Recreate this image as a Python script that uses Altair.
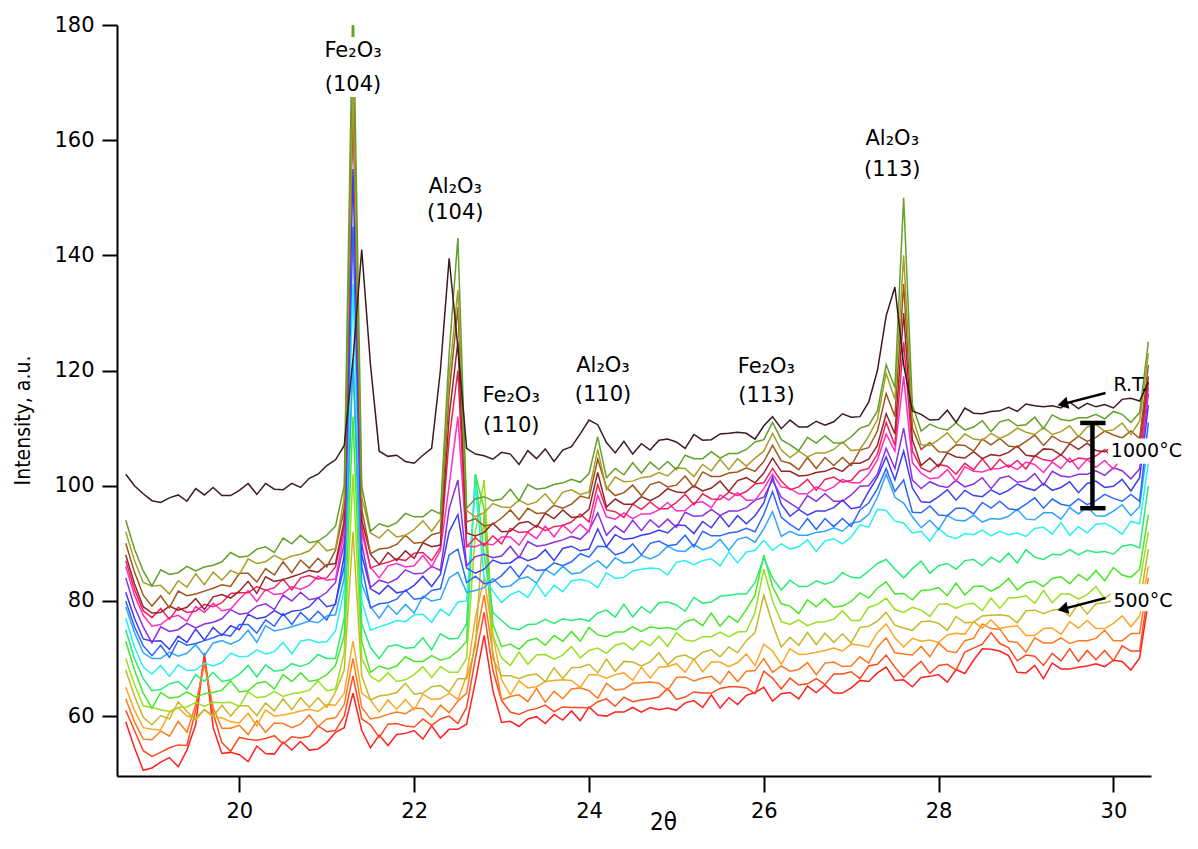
import altair as alt
import pandas as pd

# ---------------- data ----------------
two_theta = [18.7, 18.8, 18.9, 19.0, 19.1, 19.2, 19.3, 19.4, 19.5, 19.6,
             19.7, 19.8, 19.9, 20.0, 20.1, 20.2, 20.3, 20.4, 20.5, 20.6,
             20.7, 20.8, 20.9, 21.0, 21.1, 21.2, 21.3, 21.4, 21.5, 21.6,
             21.7, 21.8, 21.9, 22.0, 22.1, 22.2, 22.3, 22.4, 22.5, 22.6,
             22.7, 22.8, 22.9, 23.0, 23.1, 23.2, 23.3, 23.4, 23.5, 23.6,
             23.7, 23.8, 23.9, 24.0, 24.1, 24.2, 24.3, 24.4, 24.5, 24.6,
             24.7, 24.8, 24.9, 25.0, 25.1, 25.2, 25.3, 25.4, 25.5, 25.6,
             25.7, 25.8, 25.9, 26.0, 26.1, 26.2, 26.3, 26.4, 26.5, 26.6,
             26.7, 26.8, 26.9, 27.0, 27.1, 27.2, 27.3, 27.4, 27.5, 27.6,
             27.7, 27.8, 27.9, 28.0, 28.1, 28.2, 28.3, 28.4, 28.5, 28.6,
             28.7, 28.8, 28.9, 29.0, 29.1, 29.2, 29.3, 29.4, 29.5, 29.6,
             29.7, 29.8, 29.9, 30.0, 30.1, 30.2, 30.3, 30.4]

s01_red = [59.0, 54.5, 50.6, 51.0, 52.0, 52.8, 51.2, 54.1, 58.5, 71.0,
           58.0, 53.5, 53.7, 53.3, 52.1, 54.8, 53.5, 53.4, 55.5, 54.1,
           55.6, 54.1, 54.3, 55.4, 57.2, 58.0, 64.0, 57.5, 54.5, 56.7,
           54.9, 56.8, 57.0, 57.5, 56.0, 58.3, 56.2, 57.7, 57.7, 58.6,
           66.0, 74.0, 64.5, 58.9, 59.1, 58.2, 59.5, 59.9, 58.7, 60.3,
           59.3, 60.9, 59.2, 61.6, 60.2, 60.0, 60.7, 60.7, 61.5, 60.7,
           61.5, 61.1, 61.4, 61.0, 62.3, 62.7, 61.5, 63.7, 61.4, 63.2,
           62.0, 63.6, 64.1, 65.0, 62.6, 63.9, 64.1, 63.0, 65.2, 64.1,
           65.4, 64.0, 64.0, 64.9, 66.2, 66.0, 67.5, 68.5, 66.2, 66.3,
           65.1, 66.7, 66.9, 67.2, 65.9, 68.1, 67.4, 69.7, 71.7, 71.6,
           71.3, 70.5, 67.6, 67.5, 68.8, 66.5, 69.2, 68.2, 68.2, 68.5,
           68.7, 69.1, 68.6, 69.7, 69.5, 68.0, 70.1, 80.0]

s02_redorange = [61.0, 57.5, 54.0, 53.0, 53.7, 54.5, 55.0, 54.9, 61.0, 70.0,
                 60.5, 55.4, 53.9, 56.3, 56.0, 55.8, 56.1, 56.6, 55.2, 56.4,
                 56.2, 56.5, 58.3, 57.3, 57.5, 60.0, 67.0, 59.5, 58.5, 56.3,
                 58.6, 58.7, 58.3, 58.1, 59.5, 58.4, 59.5, 60.0, 58.7, 61.5,
                 70.0, 78.0, 68.0, 62.7, 60.7, 60.3, 61.0, 61.3, 61.9, 60.8,
                 61.6, 61.5, 61.5, 61.4, 62.5, 63.0, 61.7, 63.3, 62.5, 62.8,
                 63.0, 63.3, 64.8, 62.9, 63.3, 64.2, 64.0, 64.0, 64.8, 65.1,
                 65.1, 64.9, 63.9, 67.8, 66.6, 64.7, 66.6, 65.4, 65.6, 66.5,
                 65.5, 67.3, 67.3, 67.7, 66.5, 68.7, 69.0, 70.6, 68.5, 66.7,
                 68.2, 69.5, 67.4, 68.8, 69.0, 68.0, 71.1, 71.8, 72.5, 74.5,
                 72.6, 71.9, 69.6, 70.6, 70.4, 68.8, 70.9, 69.6, 71.7, 69.5,
                 71.4, 69.8, 71.4, 69.6, 72.2, 71.3, 71.3, 82.0]

s03_orangered = [63.0, 59.0, 56.0, 55.9, 57.4, 56.5, 59.1, 57.2, 62.0, 69.0,
                 61.5, 57.9, 57.9, 58.4, 56.8, 59.2, 57.2, 58.8, 58.7, 58.0,
                 58.6, 60.2, 58.2, 59.5, 59.7, 62.0, 70.0, 61.5, 59.5, 59.8,
                 60.3, 60.7, 60.4, 61.4, 61.3, 59.8, 61.9, 60.6, 62.6, 64.0,
                 73.0, 81.0, 71.0, 62.8, 63.4, 63.7, 62.5, 64.8, 62.4, 64.3,
                 63.0, 64.7, 64.9, 64.4, 63.1, 65.7, 64.5, 64.7, 65.7, 65.8,
                 65.9, 65.7, 64.5, 66.7, 66.8, 66.1, 66.6, 66.9, 65.6, 67.8,
                 66.0, 67.8, 67.9, 70.0, 67.6, 68.7, 67.8, 68.1, 69.3, 67.2,
                 69.2, 69.4, 68.6, 68.7, 70.3, 69.2, 72.0, 73.6, 71.0, 70.8,
                 70.6, 72.1, 70.3, 72.7, 71.3, 71.0, 73.1, 73.5, 76.0, 75.2,
                 75.1, 73.0, 72.8, 71.1, 73.6, 72.7, 72.7, 73.6, 72.6, 73.1,
                 73.1, 73.5, 74.9, 73.1, 73.1, 74.3, 74.4, 84.0]

s04_orange = [65.0, 61.0, 58.0, 57.7, 57.6, 60.6, 61.5, 60.0, 59.7, 61.1,
              59.8, 59.7, 59.0, 58.8, 60.5, 58.3, 61.1, 60.0, 60.2, 60.5,
              60.9, 61.2, 60.8, 62.0, 61.9, 64.0, 73.0, 64.0, 62.8, 60.7,
              62.8, 61.2, 62.9, 61.1, 63.8, 62.9, 63.0, 64.0, 62.9, 67.0,
              77.0, 84.0, 74.0, 66.3, 63.7, 66.1, 64.9, 65.1, 66.0, 66.2,
              66.3, 66.2, 65.0, 67.2, 67.2, 66.6, 67.2, 67.5, 66.2, 68.5,
              66.6, 68.5, 68.6, 69.1, 67.6, 69.9, 67.7, 69.4, 69.4, 68.6,
              69.3, 70.8, 68.8, 72.5, 71.3, 69.0, 71.7, 70.7, 70.8, 71.1,
              71.4, 71.8, 71.3, 72.5, 72.3, 72.0, 74.5, 76.0, 73.6, 72.0,
              73.5, 73.0, 73.2, 72.8, 74.1, 74.4, 74.2, 76.4, 75.3, 76.7,
              75.2, 75.5, 75.7, 74.0, 74.0, 75.2, 75.3, 74.2, 76.4, 75.3,
              76.6, 75.2, 75.2, 76.1, 77.4, 75.5, 77.4, 86.0]

s05_oliveyellow = [68.0, 63.5, 59.8, 58.5, 60.1, 59.5, 62.5, 60.8, 59.3, 61.2,
                   60.0, 61.9, 60.0, 61.8, 61.8, 60.1, 62.3, 60.9, 63.0, 61.1,
                   63.2, 61.5, 63.2, 61.5, 64.2, 68.0, 92.0, 67.0, 62.8, 63.5,
                   63.7, 64.1, 65.7, 63.8, 64.0, 65.1, 65.3, 64.2, 66.5, 66.5,
                   72.0, 95.0, 70.0, 67.0, 67.0, 66.5, 67.1, 67.3, 66.0, 68.4,
                   66.5, 68.4, 68.5, 69.0, 67.5, 69.9, 67.8, 69.5, 69.4, 68.7,
                   69.4, 71.0, 68.9, 70.3, 70.6, 69.8, 71.1, 71.5, 70.3, 72.0,
                   71.0, 73.1, 74.5, 81.0, 76.0, 72.0, 73.7, 72.3, 74.5, 72.4,
                   74.4, 72.8, 74.3, 72.7, 75.4, 75.6, 76.5, 78.0, 75.8, 75.3,
                   74.9, 76.4, 76.5, 76.1, 74.9, 77.3, 76.2, 76.3, 77.4, 77.5,
                   77.6, 77.4, 76.2, 78.3, 78.4, 77.8, 78.4, 78.6, 77.3, 79.6,
                   77.7, 79.5, 79.7, 80.1, 78.7, 81.0, 79.6, 89.0]

s06_yellowgreen = [70.0, 65.5, 61.8, 61.5, 61.1, 60.8, 61.5, 61.6, 62.4, 61.7,
                   62.4, 62.3, 62.4, 61.7, 64.2, 63.2, 63.4, 64.3, 63.4, 63.9,
                   64.1, 64.5, 66.1, 64.4, 64.7, 71.0, 102.0, 70.0, 66.9, 66.0,
                   67.5, 66.0, 66.3, 67.2, 68.6, 66.7, 68.6, 67.6, 67.6, 70.0,
                   92.0, 101.0, 74.0, 70.1, 68.8, 71.1, 69.0, 70.6, 70.7, 69.9,
                   70.6, 72.1, 70.1, 71.4, 71.8, 70.9, 72.3, 72.7, 71.5, 73.1,
                   72.2, 73.9, 72.1, 74.5, 73.2, 73.0, 73.8, 73.8, 74.6, 73.8,
                   74.6, 74.7, 78.0, 85.5, 80.0, 76.4, 75.9, 76.7, 75.7, 76.3,
                   76.4, 76.8, 78.3, 76.6, 76.6, 78.9, 79.4, 80.5, 78.5, 78.0,
                   78.9, 78.4, 77.3, 79.4, 79.5, 78.7, 79.4, 79.6, 78.3, 80.5,
                   78.7, 80.5, 80.6, 80.9, 79.6, 81.8, 79.7, 81.2, 81.2, 80.3,
                   81.1, 82.5, 80.4, 81.6, 82.0, 81.0, 83.1, 92.0]

s07_green = [73.0, 68.0, 64.0, 61.4, 64.1, 63.1, 63.3, 64.2, 63.3, 63.9,
             64.1, 64.5, 66.1, 64.2, 64.4, 65.7, 66.0, 64.7, 67.2, 66.0,
             67.5, 66.0, 66.3, 67.2, 68.8, 74.0, 112.0, 73.0, 67.6, 68.7,
             68.2, 68.7, 70.3, 69.5, 69.5, 70.5, 69.7, 70.1, 71.3, 73.0,
             102.0, 96.0, 76.0, 72.1, 72.5, 71.6, 73.1, 73.5, 72.3, 74.0,
             73.0, 74.7, 73.0, 75.4, 74.1, 73.8, 74.6, 74.6, 75.5, 74.7,
             75.5, 75.2, 75.4, 75.0, 76.4, 76.8, 75.7, 77.9, 75.6, 77.4,
             76.3, 78.5, 81.0, 88.0, 82.5, 79.5, 79.1, 77.8, 80.2, 79.0,
             80.4, 78.9, 79.1, 79.9, 81.4, 80.5, 82.2, 83.3, 81.2, 81.3,
             80.2, 81.8, 81.9, 82.3, 80.9, 83.1, 81.0, 82.5, 82.6, 81.7,
             82.5, 83.9, 81.9, 83.1, 83.4, 82.5, 83.9, 84.2, 83.0, 84.6,
             83.6, 85.3, 83.5, 85.8, 84.5, 84.1, 85.5, 95.0]

s08_springgreen = [75.0, 70.0, 66.5, 64.4, 64.6, 65.6, 66.0, 64.7, 67.2, 66.0,
                   67.6, 66.0, 66.3, 67.3, 68.8, 66.8, 68.9, 67.8, 68.0, 69.1,
                   68.6, 69.2, 70.7, 70.0, 70.0, 77.0, 122.0, 76.0, 71.9, 70.0,
                   72.1, 72.4, 71.8, 71.9, 73.6, 71.5, 74.3, 73.4, 73.5, 76.0,
                   102.0, 88.0, 78.0, 76.6, 75.3, 75.0, 75.9, 76.0, 76.8, 76.1,
                   76.9, 76.6, 76.9, 76.5, 77.9, 78.4, 77.2, 79.4, 77.2, 79.0,
                   77.9, 79.7, 79.8, 79.3, 78.2, 80.6, 79.6, 79.8, 80.8, 81.0,
                   81.2, 81.2, 83.2, 87.5, 84.0, 81.9, 83.6, 82.5, 82.5, 83.5,
                   82.9, 83.4, 84.9, 84.1, 84.0, 85.2, 86.5, 87.2, 85.5, 84.0,
                   85.6, 86.9, 84.8, 86.1, 86.5, 85.5, 87.0, 87.2, 86.1, 87.6,
                   86.7, 88.3, 86.6, 88.9, 87.6, 87.2, 88.1, 88.0, 88.9, 88.0,
                   88.8, 88.4, 88.6, 88.1, 89.5, 89.8, 89.2, 100.0]

s09_cyan = [77.0, 72.0, 68.5, 67.3, 68.8, 66.9, 68.9, 67.9, 68.0, 69.2,
            68.7, 69.3, 70.9, 70.3, 70.4, 71.5, 70.8, 71.2, 72.8, 70.8,
            73.0, 73.3, 72.8, 72.9, 74.8, 82.0, 135.0, 80.0, 74.9, 75.5,
            76.0, 76.6, 76.4, 77.6, 77.7, 76.3, 78.6, 77.5, 79.8, 80.0,
            100.0, 84.0, 81.7, 79.7, 81.1, 81.7, 80.6, 83.0, 80.8, 82.7,
            81.6, 83.5, 83.7, 83.4, 82.3, 84.9, 83.9, 84.1, 85.2, 85.5,
            85.7, 85.6, 84.5, 86.7, 87.0, 86.3, 87.0, 87.3, 86.1, 88.5,
            86.6, 88.5, 88.8, 90.5, 88.8, 89.9, 89.0, 89.4, 90.6, 88.6,
            90.4, 90.8, 89.9, 91.1, 93.2, 92.8, 95.9, 95.7, 93.9, 93.5,
            91.8, 92.1, 90.4, 92.6, 91.3, 90.8, 91.7, 91.5, 92.3, 91.3,
            92.1, 91.5, 91.8, 91.2, 92.6, 92.8, 91.6, 93.6, 91.4, 92.9,
            91.8, 93.3, 93.5, 92.7, 91.6, 93.8, 93.4, 104.0]

s10_skyblue = [79.0, 74.5, 71.0, 70.0, 70.0, 71.1, 70.4, 70.9, 72.4, 70.5,
               72.7, 73.1, 72.5, 73.2, 74.9, 72.8, 75.7, 74.8, 75.1, 75.5,
               76.0, 76.5, 76.2, 77.4, 77.6, 84.0, 122.0, 83.0, 79.0, 77.0,
               79.2, 77.7, 79.4, 77.9, 80.8, 80.0, 80.3, 84.0, 85.0, 81.5,
               81.8, 82.3, 83.9, 82.4, 82.6, 83.8, 84.2, 83.1, 85.5, 84.5,
               86.0, 84.7, 84.9, 86.0, 87.0, 85.7, 87.5, 86.6, 86.7, 87.9,
               87.3, 88.0, 89.5, 88.7, 88.6, 89.8, 88.9, 89.4, 90.7, 88.8,
               90.7, 91.1, 90.2, 92.5, 95.5, 91.2, 92.1, 91.4, 91.4, 91.9,
               92.1, 92.7, 92.1, 93.5, 93.8, 95.0, 98.0, 102.0, 98.0, 97.0,
               94.6, 92.7, 94.0, 92.4, 94.8, 94.0, 93.9, 94.9, 93.7, 94.3,
               94.2, 94.7, 95.9, 94.2, 94.1, 95.3, 95.3, 94.2, 96.2, 95.1,
               96.3, 94.8, 94.7, 95.6, 96.7, 94.8, 96.4, 108.0]

s11_blue = [80.0, 75.5, 72.2, 70.5, 72.3, 70.2, 73.1, 72.3, 72.6, 73.1,
            73.6, 74.2, 73.9, 75.9, 75.9, 74.4, 76.7, 75.6, 77.8, 75.9,
            78.0, 76.6, 78.2, 76.7, 79.6, 86.0, 145.0, 86.0, 78.8, 79.5,
            79.7, 80.3, 81.9, 80.3, 80.5, 81.8, 82.1, 88.0, 89.0, 83.2,
            84.3, 83.0, 83.3, 84.4, 86.0, 84.1, 86.2, 85.3, 85.4, 86.6,
            86.1, 86.8, 88.2, 87.6, 89.5, 89.4, 88.0, 88.5, 89.9, 88.0,
            90.0, 90.4, 89.6, 89.8, 91.4, 89.4, 92.1, 91.3, 91.3, 91.8,
            92.0, 92.6, 92.0, 95.0, 99.0, 94.5, 93.3, 92.3, 94.3, 92.4,
            94.3, 92.9, 94.3, 92.9, 95.8, 97.0, 99.5, 103.0, 99.0, 101.0,
            95.4, 95.3, 96.5, 94.9, 94.8, 96.1, 96.1, 95.1, 97.1, 96.1,
            97.3, 96.0, 95.8, 96.8, 97.9, 96.1, 97.7, 96.8, 96.5, 97.7,
            96.7, 97.4, 98.5, 97.8, 97.3, 98.5, 97.3, 111.0]

s12_deepblue = [81.5, 77.0, 73.4, 73.0, 73.1, 71.6, 73.9, 72.8, 75.1, 73.2,
                75.4, 74.0, 75.7, 75.0, 77.7, 76.9, 77.2, 78.3, 77.5, 78.2,
                78.4, 79.0, 80.6, 79.0, 79.4, 88.0, 155.0, 88.0, 82.1, 81.2,
                82.7, 81.4, 81.7, 82.7, 84.3, 82.5, 84.6, 92.0, 95.0, 85.7,
                84.8, 85.5, 87.1, 86.5, 86.6, 87.7, 87.0, 87.5, 88.9, 87.0,
                89.1, 89.5, 88.7, 89.0, 92.5, 89.4, 91.5, 90.7, 90.9, 91.4,
                91.7, 92.3, 91.8, 93.2, 93.1, 91.7, 93.8, 92.7, 94.8, 92.9,
                94.8, 93.4, 94.8, 97.0, 101.5, 96.8, 94.7, 95.9, 94.9, 95.6,
                95.6, 96.2, 97.5, 96.0, 96.3, 99.0, 101.5, 105.0, 101.0, 106.0,
                99.6, 97.2, 97.1, 98.1, 99.3, 97.5, 99.2, 98.3, 98.1, 99.3,
                98.5, 99.2, 100.3, 99.6, 99.2, 100.4, 99.2, 99.7, 100.7, 98.8,
                100.4, 100.8, 99.7, 99.9, 101.1, 99.1, 101.4, 114.0]

s13_purple = [84.0, 79.0, 75.5, 72.7, 75.5, 74.7, 75.0, 76.1, 75.3, 76.0,
              76.3, 76.9, 78.5, 77.7, 77.9, 79.1, 79.5, 78.5, 81.0, 80.0,
              81.5, 80.2, 80.5, 81.5, 83.2, 90.0, 170.0, 90.0, 82.3, 83.6,
              83.1, 83.8, 85.4, 84.7, 84.8, 86.0, 85.3, 96.0, 101.0, 86.1,
              87.7, 88.1, 87.5, 87.8, 89.5, 87.5, 90.3, 89.5, 89.7, 90.2,
              90.6, 91.2, 90.7, 92.2, 95.3, 91.4, 93.0, 91.9, 94.0, 92.2,
              94.1, 92.8, 94.2, 92.8, 95.4, 94.7, 94.8, 95.9, 94.8, 95.6,
              95.6, 96.2, 97.5, 98.0, 101.0, 98.0, 97.0, 96.0, 98.3, 97.3,
              98.6, 97.3, 97.3, 98.4, 99.9, 100.0, 102.0, 106.5, 103.0, 110.0,
              101.0, 99.5, 100.7, 100.0, 99.7, 100.9, 99.8, 100.3, 101.4, 99.5,
              101.3, 101.7, 100.6, 100.8, 102.1, 100.1, 102.5, 101.7, 101.5, 102.0,
              102.0, 102.6, 101.8, 103.1, 102.6, 101.2, 102.9, 116.0]

s14_pink = [86.0, 81.0, 77.5, 75.6, 75.9, 77.1, 77.5, 76.5, 79.0, 78.0,
            79.6, 78.3, 78.6, 80.3, 81.8, 79.9, 82.0, 81.1, 81.3, 82.5,
            82.0, 82.7, 84.3, 83.6, 83.8, 92.0, 172.0, 92.0, 85.8, 84.0,
            86.1, 86.5, 85.9, 86.1, 87.9, 85.9, 88.8, 100.0, 112.0, 89.5,
            89.4, 90.0, 89.7, 91.1, 91.1, 89.7, 91.9, 90.8, 93.0, 91.1,
            93.2, 91.8, 93.3, 92.0, 98.3, 94.6, 94.2, 95.3, 94.3, 95.1,
            95.1, 95.8, 97.1, 95.6, 95.7, 97.0, 97.2, 96.2, 98.4, 97.5,
            98.8, 97.5, 97.5, 99.5, 102.0, 99.8, 99.5, 98.6, 98.6, 99.8,
            99.1, 99.8, 101.1, 100.5, 100.5, 102.0, 104.5, 109.0, 106.0, 119.0,
            104.0, 102.2, 101.2, 101.4, 102.8, 100.8, 103.3, 102.5, 102.4, 102.9,
            103.0, 103.6, 102.8, 104.1, 103.7, 102.3, 104.1, 103.0, 104.8, 102.9,
            104.6, 103.2, 104.4, 102.9, 105.1, 104.4, 104.1, 117.0]

s15_crimson = [87.0, 82.0, 78.3, 77.1, 78.7, 76.8, 78.9, 78.0, 78.2, 79.4,
               79.0, 79.7, 81.3, 81.4, 81.4, 82.5, 81.8, 82.3, 83.8, 81.9,
               84.0, 84.4, 83.8, 84.0, 85.9, 93.0, 169.0, 93.0, 85.7, 86.3,
               86.7, 87.3, 87.0, 88.3, 88.4, 87.0, 89.3, 108.0, 120.0, 89.4,
               91.0, 89.6, 91.3, 89.9, 92.6, 91.9, 92.0, 93.1, 92.2, 92.9,
               93.1, 93.7, 95.1, 93.7, 100.2, 95.8, 95.5, 94.5, 96.8, 95.9,
               97.2, 96.0, 96.0, 97.1, 98.5, 96.7, 98.6, 97.7, 97.6, 98.9,
               98.3, 99.0, 100.3, 100.5, 103.0, 100.8, 99.3, 99.8, 101.1, 99.2,
               101.1, 101.5, 100.6, 100.9, 102.6, 103.0, 105.5, 111.0, 107.0, 125.0,
               106.0, 103.1, 102.4, 103.7, 103.4, 102.0, 103.9, 102.8, 104.7, 102.8,
               104.6, 103.2, 104.4, 102.9, 105.2, 104.5, 104.3, 105.4, 104.1, 104.8,
               104.6, 105.2, 106.3, 104.7, 104.4, 105.7, 105.5, 118.0]

s16_darkred = [88.0, 83.0, 79.0, 77.9, 78.0, 79.1, 78.4, 78.9, 80.4, 78.5,
               80.7, 81.1, 80.5, 81.7, 83.4, 81.3, 84.2, 83.4, 83.7, 84.2,
               84.7, 85.3, 85.0, 86.3, 86.5, 94.0, 171.0, 94.0, 88.1, 86.3,
               88.4, 87.0, 88.7, 87.4, 90.1, 89.4, 89.7, 112.0, 125.0, 91.8,
               91.3, 91.9, 93.5, 92.0, 92.1, 93.5, 93.8, 92.8, 95.2, 94.3,
               95.8, 94.5, 94.6, 95.9, 102.3, 96.3, 97.7, 96.8, 96.8, 98.1,
               97.4, 98.2, 99.5, 98.9, 98.8, 100.0, 99.1, 99.6, 100.8, 99.0,
               100.9, 101.4, 100.5, 102.2, 104.8, 102.5, 102.5, 101.7, 101.8, 102.3,
               102.5, 103.1, 102.5, 103.9, 103.9, 104.6, 107.0, 112.5, 109.0, 130.0,
               108.0, 103.5, 104.8, 103.3, 105.7, 105.0, 104.8, 105.9, 104.7, 105.4,
               105.2, 105.8, 106.9, 105.3, 105.1, 106.4, 106.3, 105.3, 107.3, 106.3,
               107.4, 106.1, 105.9, 106.9, 107.9, 106.1, 107.6, 119.0]

s17_brown = [90.0, 85.0, 81.0, 79.1, 80.9, 78.8, 81.7, 80.9, 81.2, 81.7,
             82.2, 82.8, 82.5, 84.8, 84.8, 83.3, 85.6, 84.5, 86.8, 84.9,
             87.1, 85.7, 87.4, 85.9, 88.8, 96.0, 168.0, 96.0, 88.2, 89.0,
             89.2, 89.8, 91.4, 90.0, 90.2, 91.5, 91.9, 116.0, 131.0, 93.7,
             94.3, 93.0, 93.3, 94.4, 95.8, 94.1, 96.1, 95.2, 95.3, 96.6,
             96.1, 96.8, 98.2, 97.8, 104.6, 99.7, 98.3, 98.8, 100.1, 98.3,
             100.2, 100.7, 99.8, 100.1, 101.7, 99.7, 102.4, 101.6, 101.6, 102.2,
             102.4, 103.1, 102.5, 104.2, 107.0, 104.3, 103.9, 102.8, 104.9, 103.0,
             104.9, 103.5, 104.9, 103.5, 106.2, 106.6, 109.5, 116.0, 112.0, 135.0,
             110.0, 106.3, 107.5, 105.9, 105.8, 107.1, 107.0, 106.0, 108.1, 107.1,
             108.2, 106.9, 106.7, 107.7, 108.8, 107.0, 108.6, 107.7, 107.4, 108.6,
             107.7, 108.4, 109.5, 108.8, 108.3, 109.5, 108.2, 121.0]

s18_khaki = [92.0, 87.0, 83.2, 82.6, 82.7, 81.2, 83.5, 82.4, 84.7, 82.8,
             85.0, 83.6, 85.3, 84.6, 87.3, 86.5, 86.8, 87.9, 87.1, 87.8,
             88.1, 88.7, 90.3, 88.7, 89.1, 98.0, 170.0, 98.0, 91.8, 90.9,
             92.4, 91.1, 91.4, 92.4, 93.9, 92.1, 94.2, 119.0, 134.0, 95.7,
             94.6, 95.3, 96.9, 96.3, 96.2, 97.5, 96.7, 97.2, 98.6, 96.8,
             98.9, 99.3, 98.5, 98.9, 106.3, 99.3, 101.5, 100.7, 100.8, 101.4,
             101.6, 102.3, 101.7, 103.1, 103.0, 101.6, 103.7, 102.6, 104.6, 102.8,
             104.7, 103.4, 104.8, 106.0, 109.1, 106.2, 104.9, 106.0, 105.0, 105.7,
             105.7, 106.3, 107.6, 106.1, 106.3, 108.6, 111.5, 119.5, 115.0, 140.0,
             112.0, 107.1, 107.0, 108.0, 109.2, 107.4, 109.0, 108.1, 107.9, 109.1,
             108.2, 108.9, 110.0, 109.3, 108.9, 110.1, 108.9, 109.4, 110.4, 108.5,
             110.2, 110.6, 109.5, 109.7, 110.9, 108.9, 111.2, 123.0]

s19_olivegreen = [94.0, 89.0, 85.2, 82.6, 85.4, 84.6, 84.9, 86.0, 85.2, 85.9,
                  86.2, 86.8, 88.4, 87.6, 87.8, 89.0, 89.4, 88.4, 90.9, 89.9,
                  91.4, 90.1, 90.4, 91.4, 93.0, 100.0, 186.0, 100.0, 92.1, 93.4,
                  92.9, 93.6, 95.2, 94.6, 94.6, 95.8, 95.1, 123.0, 143.0, 96.1,
                  97.7, 98.1, 97.4, 97.7, 99.4, 97.4, 100.2, 99.4, 99.6, 100.2,
                  100.5, 101.1, 100.6, 102.1, 108.5, 101.4, 103.0, 101.9, 104.0, 102.2,
                  104.1, 102.8, 104.2, 102.8, 105.3, 104.7, 104.7, 105.9, 104.8, 105.6,
                  105.6, 106.3, 107.6, 108.0, 111.0, 108.0, 107.1, 106.1, 108.4, 107.4,
                  108.7, 107.4, 107.4, 108.5, 110.0, 110.5, 113.0, 121.0, 117.0, 150.0,
                  114.0, 109.5, 110.7, 110.0, 109.7, 110.9, 109.7, 110.2, 111.3, 109.4,
                  111.1, 111.5, 110.4, 110.6, 111.9, 109.9, 112.3, 111.5, 111.3, 111.8,
                  111.8, 112.4, 111.6, 112.9, 112.4, 111.0, 112.7, 125.0]

s20_rt = [102.0, 100.0, 98.6, 97.4, 97.1, 97.9, 98.4, 97.3, 99.5, 98.4,
          99.7, 98.3, 98.3, 99.2, 100.4, 98.5, 100.4, 99.4, 99.3, 100.4,
          99.7, 101.3, 102.0, 103.5, 104.5, 107.0, 122.0, 141.0, 121.0, 106.0,
          105.1, 105.3, 104.2, 103.9, 105.3, 106.5, 120.0, 139.5, 124.0, 106.5,
          105.5, 105.2, 104.6, 105.8, 105.5, 103.7, 106.1, 104.7, 106.4, 104.2,
          106.2, 106.8, 109.0, 111.4, 110.6, 107.5, 105.7, 107.7, 105.5, 107.3,
          106.2, 107.9, 108.1, 107.6, 106.5, 108.9, 107.9, 108.0, 109.0, 109.1,
          109.3, 109.1, 108.1, 110.4, 112.0, 109.9, 111.4, 110.2, 110.2, 111.2,
          110.5, 111.1, 112.5, 111.9, 112.0, 114.5, 120.0, 129.5, 134.5, 121.0,
          113.0, 112.4, 111.4, 111.5, 113.1, 111.0, 113.5, 112.6, 112.5, 112.9,
          113.0, 113.6, 112.9, 114.2, 113.9, 113.7, 113.9, 113.5, 114.5, 113.4,
          114.3, 113.7, 114.1, 113.5, 115.0, 115.2, 114.7, 118.0]

traces = [s01_red, s02_redorange, s03_orangered, s04_orange, s05_oliveyellow,
          s06_yellowgreen, s07_green, s08_springgreen, s09_cyan, s10_skyblue,
          s11_blue, s12_deepblue, s13_purple, s14_pink, s15_crimson,
          s16_darkred, s17_brown, s18_khaki, s19_olivegreen, s20_rt]
series_names = ["%02d" % (i + 1) for i in range(len(traces))]
series_colors = ["#ff2020", "#ff4a1e", "#ff7a1e", "#ffa526", "#c4b82a",
                 "#98e020", "#48e828", "#28ec78", "#28f0f0", "#2ea6ff",
                 "#2a66ff", "#3c3cf0", "#8c2ee6", "#ff2ec0", "#f0205a",
                 "#962626", "#a0561c", "#a89e2a", "#62a02a", "#3b1a22"]

# peak annotations
peak_tt = [21.30, 21.30, 22.47, 22.47, 23.11, 23.11, 24.16, 24.16, 26.03, 26.03, 27.47, 27.47]
peak_y = [174.4, 168.5, 150.8, 146.3, 114.5, 109.3, 119.7, 114.7, 119.6, 114.5, 159.2, 153.8]
peak_text = ["Fe₂O₃", "(104)", "Al₂O₃", "(104)", "Fe₂O₃", "(110)",
             "Al₂O₃", "(110)", "Fe₂O₃", "(113)", "Al₂O₃", "(113)"]

side_tt = [30.00, 29.97, 30.00]
side_y = [116.4, 105.0, 78.9]
side_text = ["R.T.", "1000°C", "500°C"]

box_tt = [20.95, 29.94, 29.97]
box_tt2 = [21.66, 30.80, 30.80]
box_y = [167.5, 103.8, 78.2]
box_y2 = [177.9, 108.2, 82.9]

arrow_tail_tt = [29.91, 29.91]
arrow_tail_y = [116.1, 80.5]
arrow_head_tt = [29.44, 29.44]
arrow_head_y = [114.26, 78.66]

ibeam_tt = [29.76, 29.62, 29.62]
ibeam_tt2 = [29.76, 29.91, 29.91]
ibeam_y = [96.1, 110.9, 96.1]
ibeam_y2 = [110.9, 110.9, 96.1]

# ---------------- build ----------------
rows = []
for name, ys in zip(series_names, traces):
    for xv, yv in zip(two_theta, ys):
        rows.append({"tt": xv, "inten": yv, "series": name})
df = pd.DataFrame(rows)

X_DOMAIN = [18.6, 30.43]
Y_DOMAIN = [49.6, 180]
NARROW = "'DejaVu Sans Condensed', 'Liberation Sans Narrow', sans-serif"
LABEL_FONT = "DejaVu Sans"

x_enc = alt.X("tt:Q",
              scale=alt.Scale(domain=X_DOMAIN, nice=False, zero=False),
              axis=alt.Axis(values=[20, 22, 24, 26, 28, 30], format="d",
                            labelFont=LABEL_FONT, labelFontSize=21, labelColor="black",
                            labelPadding=8, tickSize=16, tickWidth=2, tickColor="black",
                            domainColor="black", domainWidth=2, grid=False,
                            title="2θ", titleFont=NARROW, titleFontSize=24,
                            titleFontWeight="normal", titleColor="black",
                            titleX=546, titleY=53, titleBaseline="alphabetic",
                            titleAlign="center"))
y_enc = alt.Y("inten:Q",
              scale=alt.Scale(domain=Y_DOMAIN, nice=False, zero=False),
              axis=alt.Axis(values=[60, 80, 100, 120, 140, 160, 180],
                            labelFont=LABEL_FONT, labelFontSize=21, labelColor="black",
                            labelPadding=8, tickSize=15, tickWidth=2, tickColor="black",
                            domainColor="black", domainWidth=2, grid=False,
                            title="Intensity, a.u.", titleFont=NARROW, titleFontSize=21,
                            titleFontWeight="normal", titleColor="black",
                            titleX=-94, titleY=395, titleAngle=270,
                            titleBaseline="middle", titleAlign="center"))

lines = alt.Chart(df).mark_line(strokeWidth=1.5, clip=True).encode(
    x=x_enc, y=y_enc,
    color=alt.Color("series:N", scale=alt.Scale(domain=series_names, range=series_colors),
                    legend=None),
    order=alt.Order("tt:Q"))

box_df = pd.DataFrame({"tt": box_tt, "tt2": box_tt2, "inten": box_y, "inten2": box_y2})
boxes = alt.Chart(box_df).mark_rect(color="white").encode(
    x="tt:Q", x2="tt2:Q", y="inten:Q", y2="inten2:Q")

peak_df = pd.DataFrame({"tt": peak_tt, "inten": peak_y, "label": peak_text})
peak_labels = alt.Chart(peak_df).mark_text(
    font=LABEL_FONT, fontSize=21, color="black", align="center", baseline="alphabetic"
).encode(x="tt:Q", y="inten:Q", text="label:N")

side_df = pd.DataFrame({"tt": side_tt, "inten": side_y, "label": side_text})
side_labels = alt.Chart(side_df).mark_text(
    font=LABEL_FONT, fontSize=19, color="black", align="left", baseline="alphabetic"
).encode(x="tt:Q", y="inten:Q", text="label:N")

arrow_df = pd.DataFrame({"tt": arrow_tail_tt, "inten": arrow_tail_y,
                         "tt2": arrow_head_tt, "inten2": arrow_head_y})
arrow_shafts = alt.Chart(arrow_df).mark_rule(strokeWidth=2.5, color="black").encode(
    x="tt:Q", y="inten:Q", x2="tt2:Q", y2="inten2:Q")
arrow_heads = alt.Chart(arrow_df).mark_point(
    shape="triangle", angle=256, size=150, filled=True, color="black", opacity=1
).encode(x="tt2:Q", y="inten2:Q")

ibeam_df = pd.DataFrame({"tt": ibeam_tt, "tt2": ibeam_tt2, "inten": ibeam_y, "inten2": ibeam_y2})
ibeam = alt.Chart(ibeam_df).mark_rule(strokeWidth=4.5, color="black").encode(
    x="tt:Q", y="inten:Q", x2="tt2:Q", y2="inten2:Q")

chart = alt.layer(lines, boxes, peak_labels, side_labels, arrow_shafts, arrow_heads, ibeam).properties(
    width=1034, height=751,
    autosize=alt.AutoSizeParams(type="none"),
    padding={"left": 109, "top": 17, "right": 39, "bottom": 60},
    background="white",
).configure_view(stroke=None)

chart.save("out.html", embed_options={"renderer": "svg", "actions": False})
